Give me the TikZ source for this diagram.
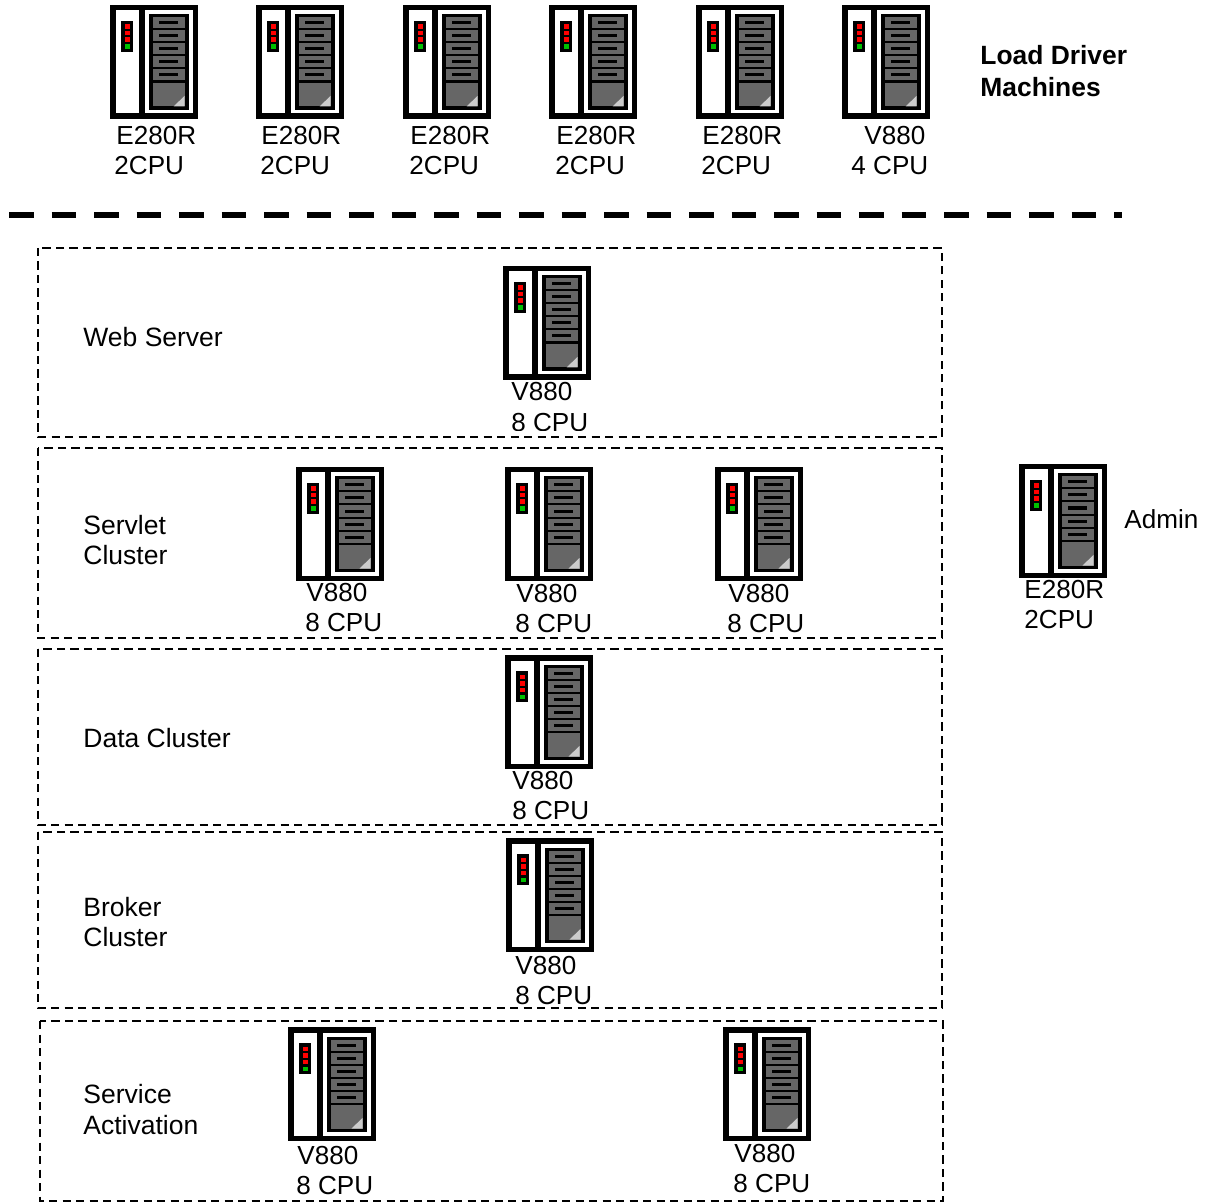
\documentclass[tikz,border=0pt]{standalone}
\usepackage{fontspec}
\setmainfont{Liberation Sans}
\usetikzlibrary{positioning}
\definecolor{DrawerGray}{RGB}{102,102,102}
\definecolor{LedGreen}{RGB}{0,192,0}
\tikzset{
  lbl/.style={font=\fontsize{13.05}{15}\selectfont, anchor=base west, inner sep=0pt},
  tierlbl/.style={lbl, font=\fontsize{13.25}{15}\selectfont},
  boldlbl/.style={lbl, font=\fontsize{13.2}{15}\selectfont\bfseries},
  tierbox/.style={draw, dash pattern=on 4.2pt off 2.55pt, line width=0.8pt},
  serverbox/.pic={
    \fill[black] (0,0) rectangle (88,114);
    \fill[white] (5.5,5.5) rectangle (29,108.5);
    \fill[white] (35,5.5) rectangle (82.5,108.5);
    \fill[black] (39,9.5) rectangle (78.5,105);
    \foreach \y in {12.5,25.5,38.5,51.5,64.5} {
      \fill[DrawerGray] (42.5,\y) rectangle (74.5,\y+11);
      \fill[black] (49,\y+4) rectangle (67.5,\y+7);
    }
    \fill[DrawerGray] (42.5,78) rectangle (74.5,101.5);
    \fill[gray!40] (74.5,91) -- (74.5,101.5) -- (63.5,101.5) -- cycle;
    \fill[black] (11,16) rectangle (23,47);
    \foreach \y in {19.5,26,32.5} {
      \fill[red] (14.5,\y) rectangle (19.5,\y+4.5);
    }
    \fill[LedGreen] (14.5,39.5) rectangle (19.5,44);
  }
}
\begin{document}
\begin{tikzpicture}[x=0.5pt, y=-0.5pt]
  \useasboundingbox (0,0) rectangle (1213,1202);
  % Load drivers
  \pic (ld1) at (110,5) {serverbox};
  \pic (ld2) at (256,5) {serverbox};
  \pic (ld3) at (403,5) {serverbox};
  \pic (ld4) at (549,5) {serverbox};
  \pic (ld5) at (696,5) {serverbox};
  \pic (ld6) at (842,5) {serverbox};
  \node[lbl] (ld1a) at (116,145) {E280R};
  \node[lbl] (ld1b) at (114,175) {2CPU};
  \node[lbl] (ld2a) at (261,145) {E280R};
  \node[lbl] (ld2b) at (260,175) {2CPU};
  \node[lbl] (ld3a) at (410,145) {E280R};
  \node[lbl] (ld3b) at (409,175) {2CPU};
  \node[lbl] (ld4a) at (556,145) {E280R};
  \node[lbl] (ld4b) at (555,175) {2CPU};
  \node[lbl] (ld5a) at (702,145) {E280R};
  \node[lbl] (ld5b) at (701,175) {2CPU};
  \node[lbl] (ld6a) at (864,145) {V880};
  \node[lbl] (ld6b) at (851,175) {4 CPU};
  \node[boldlbl] (title1) at (980,65) {Load Driver};
  \node[boldlbl] (title2) at (980,97) {Machines};
  % Separator
  \coordinate (sepL) at (9,215);
  \coordinate (sepR) at (1122,215);
  \draw[line width=3.2pt, dash pattern=on 12.35pt off 8.9pt] (sepL) -- (sepR);
  % Web Server
  \draw[tierbox] (38,248) rectangle (942,437);
  \node[tierlbl] (webT) at (83,347) {Web Server};
  \pic (web1) at (503,266) {serverbox};
  \node[lbl] (web1a) at (511,401) {V880};
  \begin{scope}
    \clip (500,405) rectangle (600,430.7);
    \node[lbl] (web1b) at (511,431.5) {8 CPU};
  \end{scope}
  % Servlet Cluster
  \draw[tierbox] (38,448) rectangle (942,638);
  \node[tierlbl] (svlT1) at (83,534) {Servlet};
  \node[tierlbl] (svlT2) at (83,564) {Cluster};
  \pic (svl1) at (296,467) {serverbox};
  \pic (svl2) at (505,467) {serverbox};
  \pic (svl3) at (715,467) {serverbox};
  \node[lbl] (svl1a) at (306,601) {V880};
  \begin{scope}
    \clip (295,605) rectangle (395,631);
    \node[lbl] (svl1b) at (305,631.8) {8 CPU};
  \end{scope}
  \node[lbl] (svl2a) at (516,602) {V880};
  \node[lbl] (svl2b) at (515,632) {8 CPU};
  \node[lbl] (svl3a) at (728,602) {V880};
  \node[lbl] (svl3b) at (727,632) {8 CPU};
  % Data Cluster
  \draw[tierbox] (38,649) rectangle (942,825);
  \node[tierlbl] (datT) at (83,747) {Data Cluster};
  \pic (dat1) at (505,655) {serverbox};
  \node[lbl] (dat1a) at (512,789) {V880};
  \node[lbl] (dat1b) at (512,819) {8 CPU};
  % Broker Cluster
  \draw[tierbox] (38,832) rectangle (942,1008);
  \node[tierlbl] (brkT1) at (83,916) {Broker};
  \node[tierlbl] (brkT2) at (83,946) {Cluster};
  \pic (brk1) at (506,838) {serverbox};
  \node[lbl] (brk1a) at (515,974) {V880};
  \node[lbl] (brk1b) at (515,1004) {8 CPU};
  % Service Activation
  \draw[tierbox] (40,1021) rectangle (943,1201);
  \node[tierlbl] (actT1) at (83,1103) {Service};
  \node[tierlbl] (actT2) at (83,1134) {Activation};
  \pic (act1) at (288,1027) {serverbox};
  \pic (act2) at (723,1027) {serverbox};
  \node[lbl] (act1a) at (297,1164) {V880};
  \node[lbl] (act1b) at (296,1194) {8 CPU};
  \node[lbl] (act2a) at (734,1162) {V880};
  \node[lbl] (act2b) at (733,1192) {8 CPU};
  % Admin
  \pic (adm1) at (1019,464) {serverbox};
  \node[lbl] (adm1a) at (1024,598) {E280R};
  \node[lbl] (adm1b) at (1024,628) {2CPU};
  \node[lbl] (admT) at (1124,529) {Admin};
\end{tikzpicture}
\end{document}
